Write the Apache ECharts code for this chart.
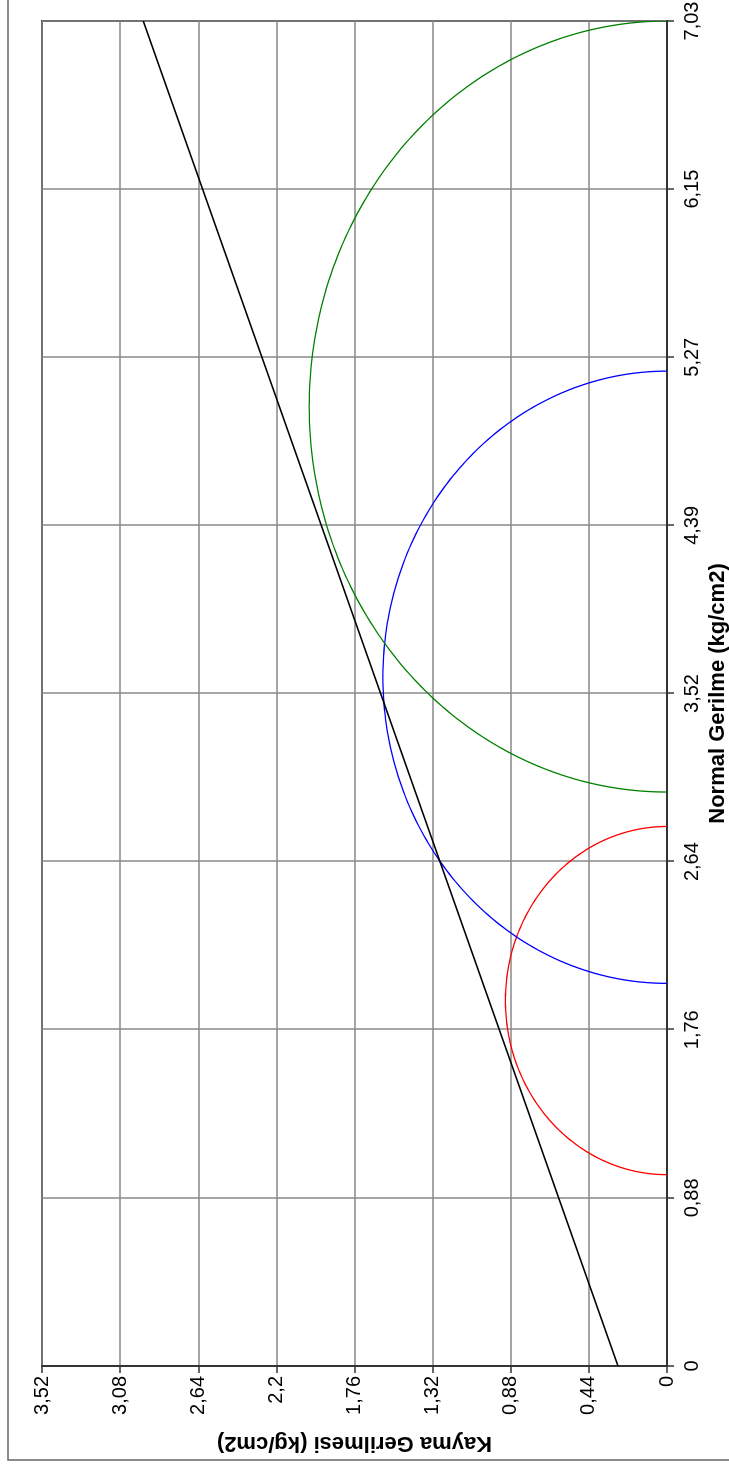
<!DOCTYPE html>
<html>
<head>
<meta charset="utf-8">
<script src="https://cdn.jsdelivr.net/npm/echarts@6/dist/echarts.min.js"></script>
<style>
html,body{margin:0;padding:0;background:#fff;overflow:hidden;width:729px;height:1470px;}
#wrap{position:absolute;left:0;top:0;transform-origin:0 0;}
</style>
</head>
<body>
<div id="wrap"><div id="chart"></div></div>
<script>
// ---- data ----
const sigmaTickLabels = ["0","0,88","1,76","2,64","3,52","4,39","5,27","6,15","7,03"];
const tauTickLabels = ["0","0,44","0,88","1,32","1,76","2,2","2,64","3,08","3,52"];
const sigmaMax = 7.03;
const tauMax = 3.52;
const sigma3 = [1.0, 2.0, 3.0];      // minor principal stress of each test
const sigma1 = [2.82, 5.2, 7.03];    // major principal stress of each test
const envelopeSigma = [0, 7.03];
const envelopeTau = [0.276, 2.95];
const xTitle = "Normal Gerilme (kg/cm2)";
const yTitle = "Kayma Gerilmesi (kg/cm2)";
const circleColors = ["#ff0000", "#0000ff", "#008000"];

// ---- layout (chart drawn landscape, then rotated into the portrait page) ----
const W = 1470, H = 729, SX = 1;
const wrap = document.getElementById('wrap');
const el = document.getElementById('chart');
el.style.width = (W / SX) + 'px';
el.style.height = H + 'px';
wrap.style.transform = 'translateY(' + W + 'px) rotate(-90deg) scaleX(' + SX + ')';

const chart = echarts.init(el, null, {renderer: 'canvas'});
const FONT = 'Liberation Sans, Arial, sans-serif';

function circleSeries(i) {
  return {
    type: 'custom',
    name: 'c' + i,
    data: [[sigma3[i], sigma1[i]]],
    clip: true,
    renderItem: function (params, api) {
      const s3 = api.value(0), s1 = api.value(1);
      const c = (s3 + s1) / 2, r = (s1 - s3) / 2;
      const pts = [];
      for (let k = 0; k <= 180; k++) {
        const t = Math.PI * k / 180;
        pts.push(api.coord([c - r * Math.cos(t), r * Math.sin(t)]));
      }
      return {type: 'polyline', shape: {points: pts},
        style: {stroke: circleColors[i], lineWidth: 1.3, fill: null}};
    },
    z: 3
  };
}

const sigmaInterval = sigmaMax / 8;
const tauInterval = tauMax / 8;

chart.setOption({
  animation: false,
  backgroundColor: '#ffffff',
  grid: {left: 104 / SX, right: 21 / SX, top: 42, bottom: 62, containLabel: false, outerBoundsMode: 'none',
    show: true, borderColor: '#333', borderWidth: 2, backgroundColor: 'transparent'},
  graphic: [{type: 'rect', shape: {x: 10 / SX, y: 8, width: 2000, height: 2000},
    style: {fill: null, stroke: '#666', lineWidth: 1.5}, silent: true}],
  xAxis: {
    type: 'value', min: 0, max: sigmaMax, interval: sigmaInterval,
    name: xTitle, nameLocation: 'middle', nameGap: 37,
    nameTextStyle: {fontFamily: FONT, fontSize: 22, fontWeight: 'bold', color: '#000'},
    axisLine: {show: true, onZero: false, lineStyle: {color: '#333', width: 2}},
    axisTick: {show: true, length: 7, lineStyle: {color: '#333', width: 1.5}},
    axisLabel: {fontFamily: FONT, fontSize: 20, color: '#000', margin: 15,
      formatter: function (v) { return sigmaTickLabels[Math.round(v / sigmaInterval)]; }},
    splitLine: {show: true, lineStyle: {color: '#888', width: 1.5}}
  },
  yAxis: {
    type: 'value', min: 0, max: tauMax, interval: tauInterval,
    name: yTitle, nameLocation: 'middle', nameGap: 66, nameRotate: 90,
    nameTextStyle: {fontFamily: FONT, fontSize: 22, fontWeight: 'bold', color: '#000'},
    axisLine: {show: true, onZero: false, lineStyle: {color: '#333', width: 2}},
    axisTick: {show: true, length: 7, lineStyle: {color: '#333', width: 1.5}},
    axisLabel: {fontFamily: FONT, fontSize: 20, color: '#000', margin: 10,
      formatter: function (v) { return tauTickLabels[Math.round(v / tauInterval)]; }},
    splitLine: {show: true, lineStyle: {color: '#888', width: 1.5}}
  },
  series: [
    circleSeries(0), circleSeries(1), circleSeries(2),
    {type: 'line', data: envelopeSigma.map((s, i) => [s, envelopeTau[i]]),
      symbol: 'none', lineStyle: {color: '#000', width: 1.5}, z: 4}
  ]
});
</script>
</body>
</html>
